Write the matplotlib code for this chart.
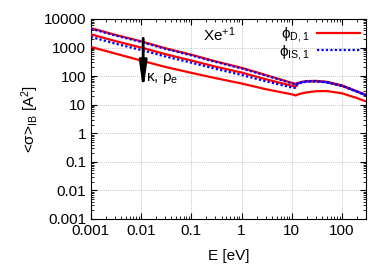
import matplotlib
matplotlib.use("Agg")
import matplotlib.pyplot as plt
from matplotlib.ticker import LogLocator, FixedLocator, FixedFormatter, NullFormatter

plt.rcParams["font.family"] = ["Liberation Sans", "DejaVu Sans"]
plt.rcParams["mathtext.fontset"] = "custom"
plt.rcParams["mathtext.rm"] = "Liberation Sans"
plt.rcParams["mathtext.it"] = "Liberation Sans:italic"

# energy grid (eV)
energy = [0.001, 0.003, 0.01, 0.03, 0.1, 0.3, 1, 3, 10, 12, 13, 16, 20, 30, 50, 100, 200, 300]

# phi_D,1 curves (red, solid)
red_curves = [
    [4800, 2800, 1650, 950, 560, 330, 195, 110, 58, 53, 57, 63, 67, 68, 63, 47, 29, 22],
    [2900, 1700, 1000, 590, 350, 215, 133, 78, 46, 43, 55, 61, 65, 66, 61, 46, 29, 21],
    [1050, 620, 350, 210, 130, 85, 55, 35, 23, 21, 22.5, 25, 27, 29.5, 30, 25, 17, 13],
]

# phi_IS,1 curves (blue, dotted)
blue_curves = [
    [4550, 2650, 1570, 900, 530, 315, 185, 105, 56, 51, 56, 62, 66, 67, 62, 46, 29, 22],
    [2350, 1380, 820, 490, 295, 180, 110, 66, 40, 38, 53, 60, 64, 65, 60, 45, 28, 21],
]

xticks = [0.001, 0.01, 0.1, 1, 10, 100]
xtick_labels = ["0.001", "0.01", "0.1", "1", "10", "100"]
yticks = [0.001, 0.01, 0.1, 1, 10, 100, 1000, 10000]
ytick_labels = ["0.001", "0.01", "0.1", "1", "10", "100", "1000", "10000"]

fig = plt.figure(figsize=(3.82, 2.67), dpi=100)
ax = fig.add_axes([0.238, 0.180, 0.720, 0.749])

for i, vals in enumerate(red_curves):
    ax.plot(energy, vals, color="red", lw=1.6, zorder=3,
            label=r"ϕ$_{\mathrm{D,1}}$" if i == 0 else None)
for i, vals in enumerate(blue_curves):
    ax.plot(energy, vals, color="blue", lw=1.6, ls=(0, (1, 1)), zorder=4,
            label=r"ϕ$_{\mathrm{IS,1}}$" if i == 0 else None)

ax.set_xscale("log")
ax.set_yscale("log")
ax.set_xlim(0.001, 300)
ax.set_ylim(0.001, 10000)

ax.xaxis.set_major_locator(FixedLocator(xticks))
ax.xaxis.set_major_formatter(FixedFormatter(xtick_labels))
ax.yaxis.set_major_locator(FixedLocator(yticks))
ax.yaxis.set_major_formatter(FixedFormatter(ytick_labels))
ax.xaxis.set_minor_locator(LogLocator(base=10, subs=range(2, 10), numticks=20))
ax.yaxis.set_minor_locator(LogLocator(base=10, subs=range(2, 10), numticks=20))
ax.xaxis.set_minor_formatter(NullFormatter())
ax.yaxis.set_minor_formatter(NullFormatter())

ax.tick_params(which="both", direction="in", top=True, right=True, labelsize=11)
ax.tick_params(which="major", length=4)
ax.tick_params(which="minor", length=2)
ax.grid(True, which="major", color="#b0b0b0", ls=(0, (1, 1.5)), lw=0.6)

ax.set_xlabel("E [eV]", fontsize=11, labelpad=8)
ax.set_ylabel(r"<σ>$_{\mathrm{IB}}$ [A$^{\mathrm{2}}$]", fontsize=11, labelpad=2)

ax.text(0.17, 2750, r"Xe$^{\mathrm{+1}}$", fontsize=11, va="center", ha="left")
ax.annotate("", xy=(0.011, 30), xytext=(0.011, 2100),
            arrowprops=dict(arrowstyle="-|>,head_width=0.22,head_length=1.6",
                            color="black", lw=2.0, shrinkA=0, shrinkB=0),
            zorder=5)
ax.text(0.0125, 85, r"κ, ρ$_{\mathrm{e}}$", fontsize=11, va="center", ha="left")

ax.legend(loc="upper right", frameon=False, markerfirst=False, fontsize=11,
          handlelength=2.8, handletextpad=0.5, borderaxespad=0.1,
          borderpad=0.3, labelspacing=-0.1)

fig.savefig("out.png", dpi=100, facecolor="white")
